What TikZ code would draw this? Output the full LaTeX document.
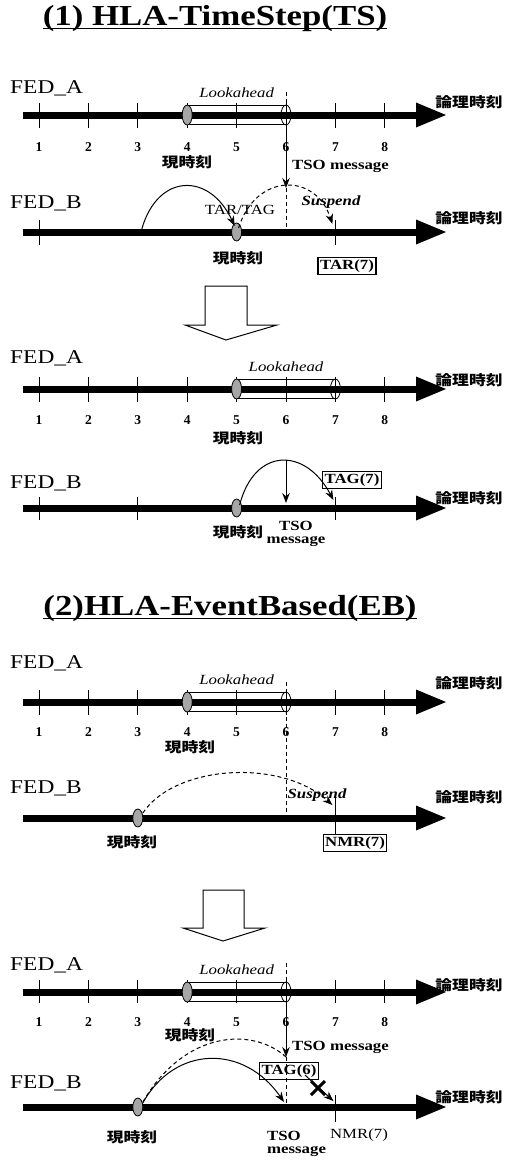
\documentclass[tikz,border=0pt]{standalone}
\usepackage{fontspec}
\setmainfont{Liberation Serif}
\newfontfamily\cjk{Noto Sans CJK JP}
\usetikzlibrary{arrows.meta,calc}
\newcommand\stretchx[1]{\scalebox{1.2}[1]{#1}}
\newcommand\timeaxis[3]{%
  \draw[axisline] (23,#2) -- (419,#2);
  \fill (416,{#2-12.5}) -- (446,#2) -- (416,{#2+12.5}) -- cycle;
  \foreach \i in {1,...,8}{\coordinate (#1-\i) at ({39+(\i-1)*49.4},#2);}
  \node[unitlbl] (#1-unit) at (469,#3) {\stretchx{論理時刻}};
}
\newcommand\tickat[3]{\draw[tickline] ($(#1)+(0,#2)$) -- ($(#1)+(0,#3)$);}
\newcommand\lookahead[2]{%
  \draw[thinline] ($(#1)+(0,-9.5)$) -- ($(#2)+(0,-9.5)$) ($(#1)+(0,9.5)$) -- ($(#2)+(0,9.5)$);
  \draw[thinline,fill=gray!70] (#1) ellipse [x radius=5pt,y radius=10pt];
  \draw[thinline] (#2) ellipse [x radius=5pt,y radius=10pt];
  \node[lalbl] at ($(#1)!0.5!(#2)+(0,-22)$) {\stretchx{Lookahead}};
}
\begin{document}
\begin{tikzpicture}[x=1pt,y=-1pt,
  axisline/.style={line width=7pt},
  tickline/.style={line width=0.9pt},
  thinline/.style={line width=0.8pt},
  fed/.style={font=\fontsize{19.5}{19.5}\selectfont, anchor=west, inner sep=0},
  unitlbl/.style={font=\cjk\bfseries\fontsize{14}{14}\selectfont, inner sep=0},
  nowlbl/.style={font=\cjk\bfseries\fontsize{14}{14}\selectfont, inner sep=0},
  numlbl/.style={font=\bfseries\fontsize{13.5}{13.5}\selectfont, inner sep=0},
  lalbl/.style={font=\itshape\fontsize{14}{14}\selectfont, inner sep=0},
  blbl/.style={font=\bfseries\fontsize{14}{14}\selectfont, inner sep=0},
  rlbl/.style={font=\fontsize{14}{14}\selectfont, inner sep=0},
  bilbl/.style={font=\bfseries\itshape\fontsize{14}{14}\selectfont, inner sep=0},
  boxlbl/.style={draw, line width=1.2pt, font=\bfseries\fontsize{14}{14}\selectfont, inner xsep=2pt, inner ysep=2.5pt},
  titlelbl/.style={font=\bfseries\fontsize{29}{29}\selectfont, inner sep=0, anchor=base},
  arc/.style={line width=1pt, -{Stealth[length=10pt,width=7.5pt]}},
  darc/.style={arc, dash pattern=on 4pt off 3pt},
  dline/.style={line width=1pt, dash pattern=on 4pt off 3pt},
  dot/.style={thinline, fill=gray!70},
  hollow/.style={line width=1pt}
]
\useasboundingbox (0,0) rectangle (505,1160);

% ---------- Title 1 ----------
\node[titlelbl] (t1) at (215,25) {\stretchx{(1) HLA-TimeStep(TS)}};
\draw[line width=1.3pt] ([yshift=-3.5pt]t1.base west) -- ([yshift=-3.5pt]t1.base east);

% ---------- Row 1 FED_A ----------
\timeaxis{a1}{115}{102}
\node[fed] (fa1) at (10,88) {\stretchx{FED\_A}};
\foreach \i in {1,...,8}{\tickat{a1-\i}{-12}{13}\node[numlbl] at ($(a1-\i)+(0,32)$) {\i};}
\lookahead{a1-4}{a1-6}
\node[nowlbl] (now1a) at (187,162) {\stretchx{現時刻}};
\coordinate (tso1) at ($(a1-6)+(0,73)$);
\draw[dline] ($(a1-6)+(0,-23)$) -- ($(a1-6)+(0,13)$);
\draw[arc] ($(a1-6)+(0,13)$) -- (tso1);
\node[blbl, anchor=west] (tso1lbl) at (292,166) {\stretchx{TSO message}};

% ---------- Row 1 FED_B ----------
\timeaxis{b1}{232}{218}
\node[fed] (fb1) at (10,203) {\stretchx{FED\_B}};
\tickat{b1-1}{-12}{13}
\tickat{b1-7}{-12}{13}
\draw[dot] (b1-5) ellipse [x radius=5pt,y radius=9pt];
\node[nowlbl] (now1b) at (238,258) {\stretchx{現時刻}};
\node[boxlbl] (tar7) at (347,266) {\stretchx{TAR(7)}};
\draw[dline] (tso1) -- (b1-6);
\draw[arc] ($(b1-3)+(4,-3)$) .. controls +(16,-56) and +(-25,-54) .. ($(b1-5)+(-2,-6)$);
\draw[darc] ($(b1-5)+(2,-4)$) .. controls +(17,-55) and +(-17,-52) .. ($(b1-7)+(-3,-8)$);
\node[rlbl] (tartag) at (240,210) {\stretchx{TAR/TAG}};
\node[bilbl] (susp1) at (331,202) {\stretchx{Suspend}};

% ---------- hollow arrow 1 ----------
\draw[hollow] (205,286) -- (247,286) -- (247,325) -- (277,325) -- (226,340) -- (185,325) -- (205,325) -- cycle;

% ---------- Row 2 FED_A ----------
\timeaxis{a2}{389}{380}
\node[fed] (fa2) at (10,358) {\stretchx{FED\_A}};
\foreach \i in {1,...,8}{\tickat{a2-\i}{-12}{13}\node[numlbl] at ($(a2-\i)+(0,31)$) {\i};}
\lookahead{a2-5}{a2-7}
\node[nowlbl] (now2a) at (238,438) {\stretchx{現時刻}};

% ---------- Row 2 FED_B ----------
\timeaxis{b2}{508}{498}
\node[fed] (fb2) at (10,483) {\stretchx{FED\_B}};
\tickat{b2-1}{-11}{12}
\tickat{b2-3}{-11}{12}
\tickat{b2-7}{-11}{12}
\draw[dot] (b2-5) ellipse [x radius=5pt,y radius=9pt];
\node[nowlbl] (now2b) at (238,532) {\stretchx{現時刻}};
\node[blbl, align=center] (tso2lbl) at (296,534) {\stretchx{TSO}\\[-1pt]\stretchx{message}};
\coordinate (tso2top) at ($(b2-6)+(0,-48)$);
\draw[arc] (tso2top) -- ($(b2-6)+(0,-5)$);
\draw[arc] ($(b2-5)+(3,-3)$) .. controls +(15,-58) and +(-28,-53) .. ($(b2-7)+(-2,-8)$);
\node[boxlbl] (tag7) at (352,480) {\stretchx{TAG(7)}};

% ---------- Title 2 ----------
\node[titlelbl] (t2) at (230,615) {\stretchx{(2)HLA-EventBased(EB)}};
\draw[line width=1.3pt] ([yshift=-3.5pt]t2.base west) -- ([yshift=-3.5pt]t2.base east);

% ---------- Row 3 FED_A ----------
\timeaxis{a3}{702}{683}
\node[fed] (fa3) at (10,663) {\stretchx{FED\_A}};
\foreach \i in {1,...,8}{\tickat{a3-\i}{-12}{13}\node[numlbl] at ($(a3-\i)+(0,30)$) {\i};}
\lookahead{a3-4}{a3-6}
\node[nowlbl] (now3a) at (190,747) {\stretchx{現時刻}};

% ---------- Row 3 FED_B ----------
\timeaxis{b3}{818}{797}
\node[fed] (fb3) at (10,788) {\stretchx{FED\_B}};
\node[boxlbl] (nmr7a) at (355,843) {\stretchx{NMR(7)}};
\draw[tickline] ($(b3-7)+(0,-20)$) -- (b3-7 |- nmr7a.north);
\draw[dline] ($(a3-6)+(0,-20)$) -- (b3-6);
\draw[dot] (b3-3) ellipse [x radius=5pt,y radius=9pt];
\node[nowlbl] (now3b) at (132,842) {\stretchx{現時刻}};
\draw[darc] ($(b3-3)+(5,-5)$) .. controls +(32,-48) and +(-52,-47) .. ($(b3-7)+(-3,-13)$);
\node[bilbl] (susp3) at (317,795) {\stretchx{Suspend}};

% ---------- hollow arrow 2 ----------
\draw[hollow] (203,890) -- (244,890) -- (244,928) -- (265,928) -- (223,941) -- (183,928) -- (203,928) -- cycle;

% ---------- Row 4 FED_A ----------
\timeaxis{a4}{992}{985}
\node[fed] (fa4) at (10,965) {\stretchx{FED\_A}};
\foreach \i in {1,...,8}{\tickat{a4-\i}{-12}{11}\node[numlbl] at ($(a4-\i)+(0,30)$) {\i};}
\lookahead{a4-4}{a4-6}
\node[nowlbl] (now4a) at (190,1035) {\stretchx{現時刻}};
\coordinate (tso4) at ($(a4-6)+(0,65)$);
\draw[dline] ($(a4-6)+(0,-29)$) -- ($(a4-6)+(0,11)$);
\draw[arc] ($(a4-6)+(0,11)$) -- (tso4);
\node[blbl, anchor=west] (tso4lbl) at (292,1047) {\stretchx{TSO message}};

% ---------- Row 4 FED_B ----------
\timeaxis{b4}{1107}{1097}
\node[fed] (fb4) at (10,1083) {\stretchx{FED\_B}};
\tickat{b4-7}{-12}{15}
\draw[dline] (tso4) -- (b4-6);
\draw[dot] (b4-3) ellipse [x radius=5pt,y radius=9pt];
\node[nowlbl] (now4b) at (132,1137) {\stretchx{現時刻}};
\node[rlbl] (nmr7b) at (359,1135) {\stretchx{NMR(7)}};
\node[blbl, align=left, anchor=west] (tso4b) at (267,1144) {\stretchx{TSO}\\[-1pt]\stretchx{message}};
\draw[dline] ($(b4-3)+(5,-5)$) .. controls +(42,-72) and +(-33,-30) .. (tso4);
\draw[arc] ($(b4-3)+(5,-4)$) .. controls +(32,-58) and +(-40,-58) .. ($(b4-6)+(-2,-5)$);
\node[boxlbl] (tag6) at (289,1071) {\stretchx{TAG(6)}};
\draw[arc] ($(tag6.east)+(-14,4)$) -- ($(b4-7)+(-2,-6)$);
\coordinate (x4) at (318,1088);
\draw[line width=3pt] (x4) +(-7,-7) -- +(7,7) (x4) +(-7,7) -- +(7,-7);
\end{tikzpicture}
\end{document}
